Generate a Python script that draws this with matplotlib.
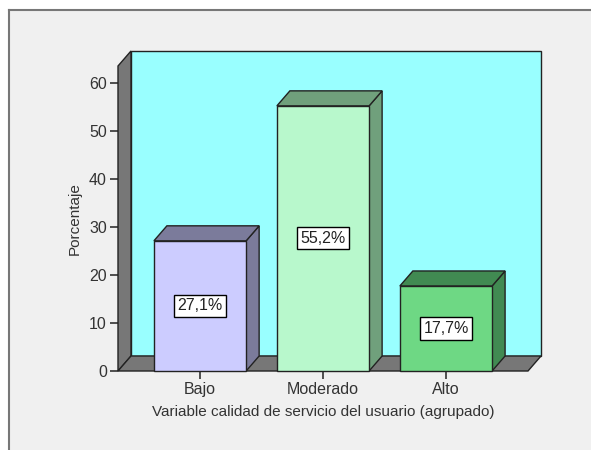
import matplotlib.pyplot as plt
from matplotlib.patches import Polygon, Rectangle
from matplotlib.lines import Line2D

# data
categories = ["Bajo", "Moderado", "Alto"]
percentages = [27.1, 55.2, 17.7]
value_labels = ["27,1%", "55,2%", "17,7%"]

front_colors = ["#ccccff", "#b8f8cc", "#6ed884"]
shade_colors = ["#7b7b9b", "#70a07c", "#418a52"]

plt.rcParams['font.family'] = ['Liberation Sans', 'DejaVu Sans']

fig = plt.figure(figsize=(5.91, 4.5), dpi=100)
fig.patch.set_facecolor('white')

# grey panel with border on top and left
fig.patches.append(Rectangle((9 / 591, 0), 1, 1 - 10 / 450, transform=fig.transFigure,
                             facecolor='#f0f0f0', edgecolor='none', zorder=-10))
fig.lines.append(Line2D([9 / 591, 9 / 591], [0, 1 - 10 / 450], transform=fig.transFigure,
                        color='#777777', lw=1.5))
fig.lines.append(Line2D([9 / 591, 1], [1 - 10 / 450, 1 - 10 / 450], transform=fig.transFigure,
                        color='#777777', lw=1.5))

ax = fig.add_axes([118 / 591, (450 - 371) / 450, 410 / 591, 305 / 450])
ax.set_facecolor('none')
xmin, xmax = -0.667, 2.667
ymin, ymax = 0, 63.5
ax.set_xlim(xmin, xmax)
ax.set_ylim(ymin, ymax)

# depth offset in data units (about 13 px right, 15 px up)
ddx = 13 / 123
ddy = 15 / 4.8
edge = '#222222'
wall_gray = '#777777'

def poly(pts, fc, z):
    ax.add_patch(Polygon(pts, closed=True, facecolor=fc, edgecolor=edge, lw=1,
                         clip_on=False, zorder=z))

# back wall
poly([(xmin + ddx, ymin + ddy), (xmax + ddx, ymin + ddy),
      (xmax + ddx, ymax + ddy), (xmin + ddx, ymax + ddy)], '#99ffff', 1)
# left wall
poly([(xmin, ymin), (xmin + ddx, ymin + ddy), (xmin + ddx, ymax + ddy), (xmin, ymax)], wall_gray, 2)
# floor
poly([(xmin, ymin), (xmax, ymin), (xmax + ddx, ymin + ddy), (xmin + ddx, ymin + ddy)], wall_gray, 2)

width = 0.75
for i, (v, fc, sc, lab) in enumerate(zip(percentages, front_colors, shade_colors, value_labels)):
    x0, x1 = i - width / 2, i + width / 2
    # side
    poly([(x1, 0), (x1 + ddx, ddy), (x1 + ddx, v + ddy), (x1, v)], sc, 3)
    # top
    poly([(x0, v), (x1, v), (x1 + ddx, v + ddy), (x0 + ddx, v + ddy)], sc, 3)
    # front
    poly([(x0, 0), (x1, 0), (x1, v), (x0, v)], fc, 4)
    ax.text(i, v / 2, lab, ha='center', va='center', fontsize=11.5, color='#222222', zorder=6,
            bbox=dict(boxstyle='square,pad=0.22', fc='white', ec='black', lw=1))

for s in ax.spines.values():
    s.set_visible(False)

ax.set_xticks(range(len(categories)))
ax.set_xticklabels(categories)
ax.set_yticks([0, 10, 20, 30, 40, 50, 60])
ax.tick_params(axis='both', length=6, width=1.2, color='#333333', labelcolor='#333333',
               labelsize=11.5, pad=2)
ax.set_xlabel("Variable calidad de servicio del usuario (agrupado)", fontsize=11, color='#333333',
              labelpad=6)
ax.set_ylabel("Porcentaje", fontsize=11, color='#333333', labelpad=5)

fig.savefig('out.png', dpi=100)
